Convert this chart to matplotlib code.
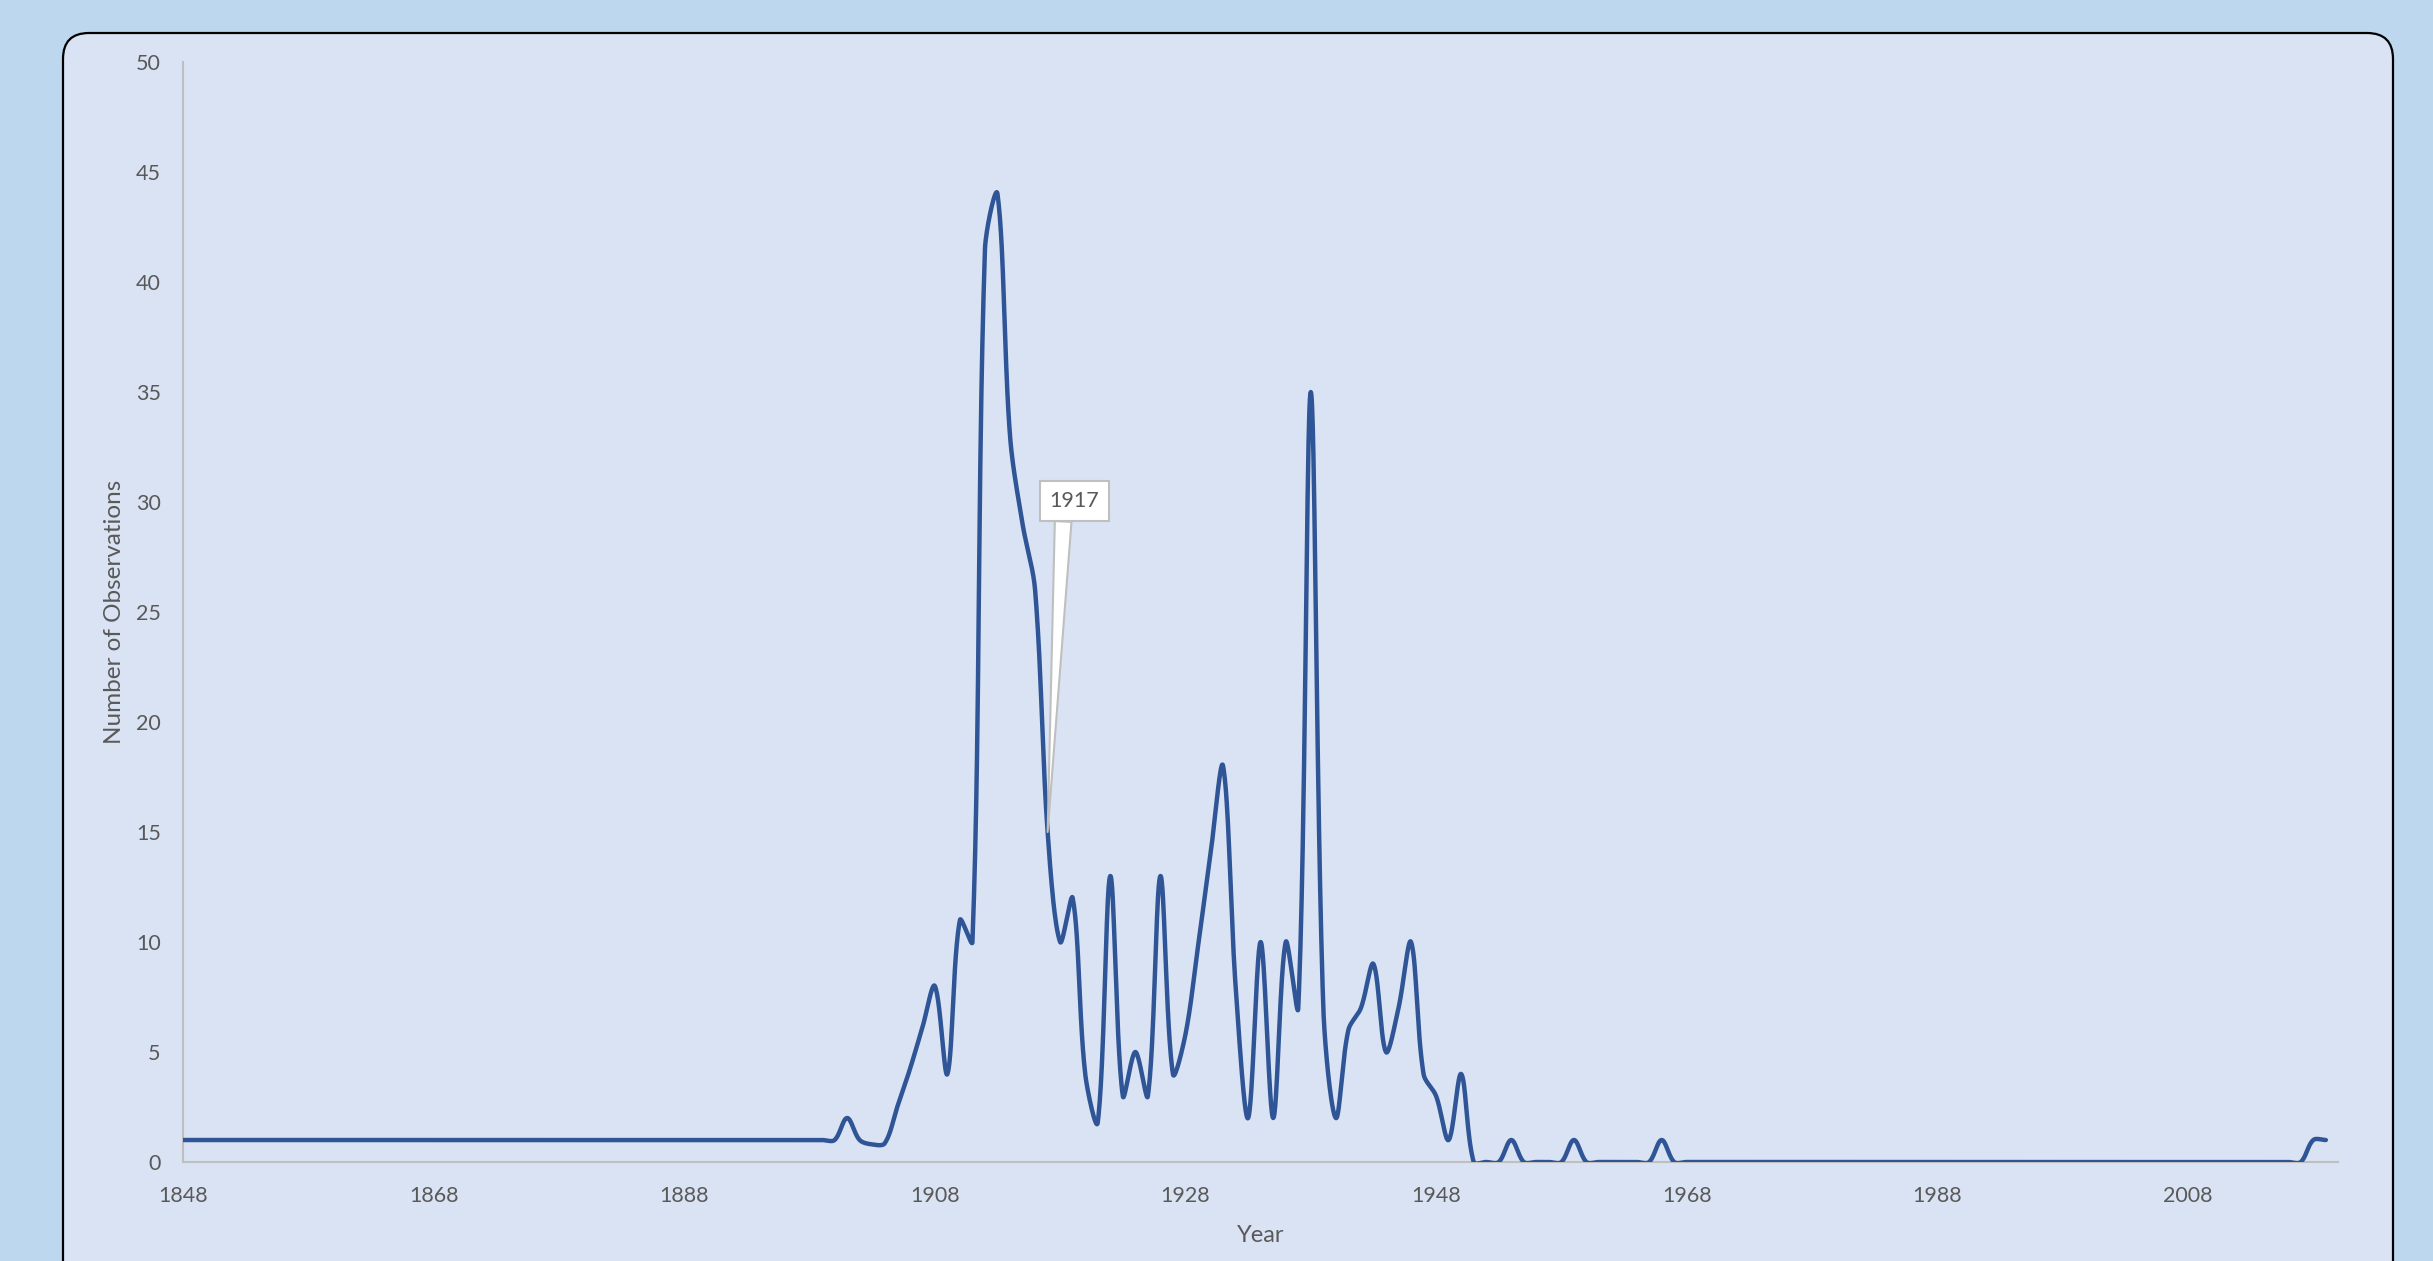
"""Observations per year, drawn like an Excel smoothed line chart."""

import numpy as np
import matplotlib
matplotlib.use("Agg")
import matplotlib.pyplot as plt
from matplotlib.patches import FancyBboxPatch

plt.rcParams['font.family'] = ['Lato', 'DejaVu Sans']

# data
years = list(range(1848, 2020))
counts_1848_1900 = [1] * 53
counts_1901_1950 = [2, 1, 0.8, 0.85, 2.5, 4.2, 6.1, 8, 4, 11,
                    10, 41.5, 44, 33, 29, 26, 15, 10, 12, 4,
                    1.8, 13, 3, 5, 3, 13, 4, 5.8, 9.8, 14,
                    18, 8, 2, 10, 2, 10, 7, 35, 7, 2,
                    6, 7, 9, 5, 7, 10, 4, 3, 1, 4]
counts_1951_2019 = ([0, 0, 0, 1, 0, 0, 0, 0, 1] + [0] * 6 + [1] + [0] * 51
                    + [1, 1])
counts = counts_1848_1900 + counts_1901_1950 + counts_1951_2019

label_year = 1917
x_ticks = list(range(1848, 2009, 20))
y_ticks = list(range(0, 51, 5))

line_color = '#2F5597'
text_color = '#595959'
axis_color = '#BFBFBF'


def smooth_line(x, y, kx, ky, n=30):
    """Bezier through every point, handles weighted by segment length
    in screen space (close to Excel's 'smoothed line')."""
    pts = np.column_stack([np.asarray(x, float) * kx,
                           np.asarray(y, float) * ky])
    pad = np.vstack([pts[:1], pts, pts[-1:]])
    t = np.linspace(0, 1, n)[:, None]
    out = []
    for i in range(len(pts) - 1):
        p0, p1, p2, p3 = pad[i], pad[i + 1], pad[i + 2], pad[i + 3]
        d01 = np.hypot(*(p1 - p0))
        d12 = np.hypot(*(p2 - p1))
        d23 = np.hypot(*(p3 - p2))
        c1 = p1 + (p2 - p0) * d12 / max(d01 + d12, 1e-9) / 3.0
        c2 = p2 - (p3 - p1) * d12 / max(d12 + d23, 1e-9) / 3.0
        seg = ((1 - t) ** 3 * p1 + 3 * (1 - t) ** 2 * t * c1 +
               3 * (1 - t) * t ** 2 * c2 + t ** 3 * p2)
        out.append(seg if i == 0 else seg[1:])
    out = np.vstack(out)
    return out[:, 0] / kx, out[:, 1] / ky


fig = plt.figure(figsize=(24.33, 12.61), dpi=100)
fig.patch.set_facecolor('#BDD7EE')

# rounded chart area
card = FancyBboxPatch((0.63, -0.5), 23.30, 12.78,
                      boxstyle="round,pad=0,rounding_size=0.26",
                      transform=fig.dpi_scale_trans,
                      facecolor='#DAE3F3', edgecolor='black', linewidth=1.6,
                      zorder=0)
fig.add_artist(card)

ax = fig.add_axes([0.0752, 0.0785, 0.9611 - 0.0752, 0.9508 - 0.0785])
ax.set_facecolor('none')
ax.set_xlim(1848, 2020)
ax.set_ylim(0, 50)

# pixels per unit on each axis, used to smooth in screen space
bbox = ax.get_window_extent()
kx = bbox.width / (2020 - 1848)
ky = bbox.height / 50.0

sx, sy = smooth_line(years, counts, kx, ky)
ax.plot(sx, sy, color=line_color, linewidth=3.2, solid_capstyle='round',
        solid_joinstyle='round', zorder=3)

ax.set_xticks(x_ticks)
ax.set_yticks(y_ticks)

for side in ['top', 'right']:
    ax.spines[side].set_visible(False)
for side in ['left', 'bottom']:
    ax.spines[side].set_color(axis_color)
    ax.spines[side].set_linewidth(1.5)

ax.tick_params(axis='both', length=0, labelsize=15.5, labelcolor=text_color)
ax.tick_params(axis='y', pad=16)
ax.tick_params(axis='x', pad=17)

ax.set_xlabel('Year', fontsize=17, color=text_color, labelpad=14)
ax.set_ylabel('Number of Observations', fontsize=17.5, color=text_color,
              labelpad=8)

# callout on the 1917 point
idx = years.index(label_year)
ax.annotate(str(label_year), xy=(label_year, counts[idx]),
            xytext=(27, 331), textcoords='offset pixels',
            ha='center', va='center', fontsize=15.5, color=text_color,
            bbox=dict(boxstyle='square,pad=0.45', fc='white',
                      ec=axis_color, lw=1.5),
            arrowprops=dict(arrowstyle='wedge,tail_width=0.6',
                            mutation_scale=20, relpos=(0.28, 0.0),
                            fc='white', ec=axis_color, lw=1.5,
                            shrinkA=0, shrinkB=0),
            zorder=5)

fig.savefig('out.png', dpi=100, facecolor=fig.get_facecolor())
